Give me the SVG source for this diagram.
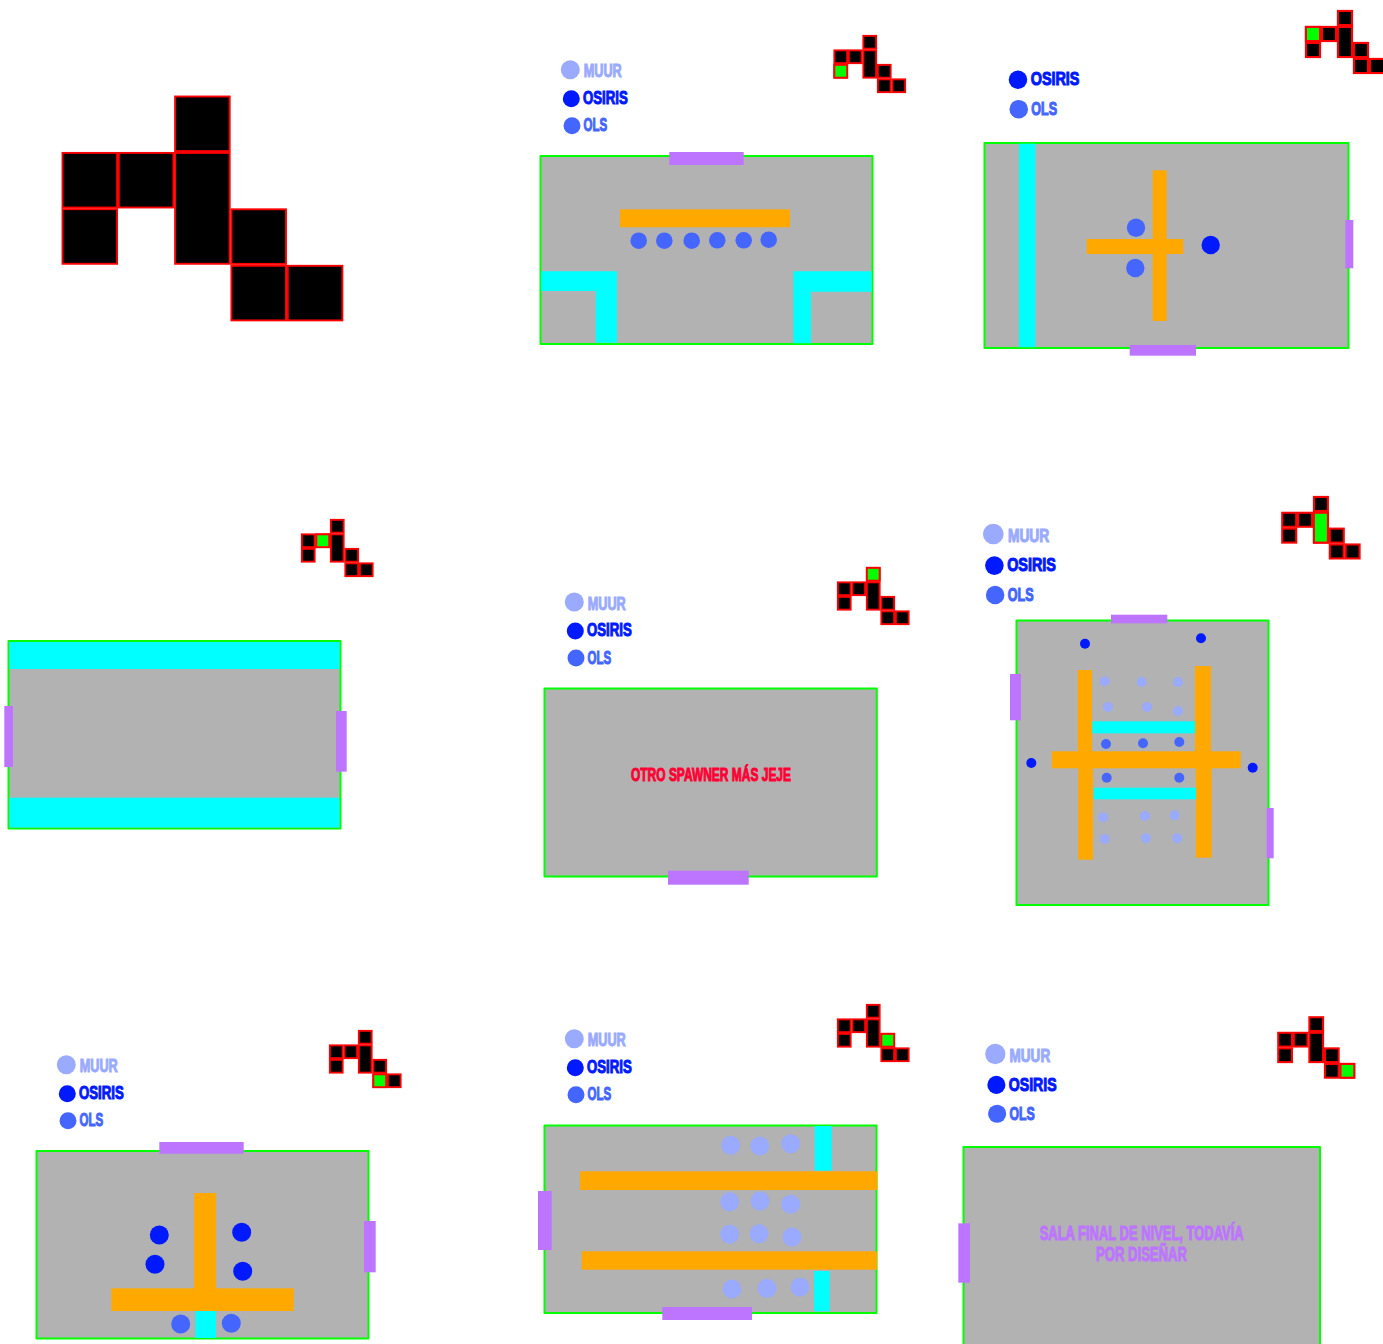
<svg xmlns="http://www.w3.org/2000/svg" xmlns:xlink="http://www.w3.org/1999/xlink" width="1383" height="1344" viewBox="0 0 1383 1344">
<style>
.room{fill:#b2b2b2;stroke:#00ff00;stroke-width:2;stroke-linejoin:round}
.door{fill:#bd75ff}
.or{fill:#ffa800}
.cy{fill:#00ffff}
.lt{fill:#99aaff}
.bl{fill:#0019ff}
.ol{fill:#4466ff}
.cell{fill:#000;stroke:#ff0000;stroke-width:1.9}
.big{fill:#000;stroke:#ff0000;stroke-width:1.9}
.gr{fill:#00ff00;stroke:#ff0000;stroke-width:1.9}
text{font-family:"Liberation Sans Narrow","Liberation Sans",Arial,sans-serif;font-weight:700;font-size:17.5px}
.tm{fill:#99aaff;stroke:#99aaff;stroke-width:1}
.to{fill:#0019ff;stroke:#0019ff;stroke-width:1}
.tl{fill:#4466ff;stroke:#4466ff;stroke-width:1}
.tr{fill:#ff0033;stroke:#ff0033;stroke-width:1}
.tp{fill:#bd75ff;stroke:#bd75ff;stroke-width:1.1;font-size:20px}
</style>
<defs>
<g id="mini">
<rect class="cell" x="29.85" y=".85" width="12.8" height="12.8"/>
<rect class="cell" x=".85" y="15.35" width="12.8" height="12.8"/>
<rect class="cell" x="15.35" y="15.35" width="12.8" height="12.8"/>
<rect class="cell" x=".85" y="29.85" width="12.8" height="12.8"/>
<rect class="cell" x="29.85" y="15.35" width="12.8" height="27.3"/>
<rect class="cell" x="44.35" y="29.85" width="12.8" height="12.8"/>
<rect class="cell" x="44.35" y="44.35" width="12.8" height="12.8"/>
<rect class="cell" x="58.85" y="44.35" width="12.8" height="12.8"/>
</g>
</defs>

<g id="map-large">
<rect class="big" x="175.1" y="96.5" width="54.6" height="54.6"/>
<rect class="big" x="62.5" y="152.9" width="54.6" height="54.6"/>
<rect class="big" x="118.8" y="152.9" width="54.6" height="54.6"/>
<rect class="big" x="62.5" y="209.2" width="54.6" height="54.6"/>
<rect class="big" x="175.1" y="152.9" width="54.6" height="110.9"/>
<rect class="big" x="231.4" y="209.3" width="54.6" height="54.6"/>
<rect class="big" x="231.4" y="265.8" width="54.6" height="54.6"/>
<rect class="big" x="287.8" y="265.8" width="54.6" height="54.6"/>
</g>

<g id="room-1">
<g transform="translate(833.5 35)"><use href="#mini"/><rect class="gr" x=".85" y="29.85" width="12.8" height="12.8"/></g>
<g transform="translate(570.3 69.7)">
<circle class="lt" r="9.5"/><text class="tm" x="13.4" y="7.6" textLength="38" lengthAdjust="spacingAndGlyphs">MUUR</text>
<circle class="bl" cx="1" cy="29" r="8.5"/><text class="to" x="12.7" y="34.3" textLength="44.7" lengthAdjust="spacingAndGlyphs">OSIRIS</text>
<circle class="ol" cx="1.7" cy="56" r="8.5"/><text class="tl" x="13.2" y="61.6" textLength="23.7" lengthAdjust="spacingAndGlyphs">OLS</text>
</g>
<rect class="room" x="540.5" y="156" width="332" height="188"/>
<rect class="door" x="669.3" y="152" width="74.4" height="13"/>
<rect class="or" x="620" y="209.3" width="170" height="18"/>
<circle class="ol" cx="638.7" cy="240.7" r="8.3"/><circle class="ol" cx="664.3" cy="240.7" r="8.3"/><circle class="ol" cx="691.7" cy="240.7" r="8.3"/><circle class="ol" cx="717.3" cy="240.3" r="8.3"/><circle class="ol" cx="743.7" cy="240.3" r="8.3"/><circle class="ol" cx="768.7" cy="239.7" r="8.3"/>
<path class="cy" d="M541 271.3H617V342.7H595.7V291H541Z"/>
<path class="cy" d="M793.3 271.3H871.7V291.7H811V343.3H793.3Z"/>
</g>

<g id="room-2">
<g transform="translate(1305 10) scale(1.103)"><use href="#mini"/><rect class="gr" x=".85" y="15.35" width="12.8" height="12.8"/></g>
<g transform="translate(1016.9 48.1) scale(1.09)">
<circle class="bl" cx="1" cy="29" r="8.5"/><text class="to" x="12.7" y="34.3" textLength="44.7" lengthAdjust="spacingAndGlyphs">OSIRIS</text>
<circle class="ol" cx="1.7" cy="56" r="8.5"/><text class="tl" x="13.2" y="61.6" textLength="23.7" lengthAdjust="spacingAndGlyphs">OLS</text>
</g>
<rect class="room" x="984.5" y="143" width="364" height="205"/>
<rect class="cy" x="1019" y="143.7" width="16.3" height="203.5"/>
<rect class="door" x="1345.3" y="220" width="8" height="48.3"/>
<rect class="door" x="1129.7" y="345" width="66.3" height="10.7"/>
<rect class="or" x="1152.7" y="170.3" width="14" height="150.7"/>
<rect class="or" x="1086.7" y="239" width="96.6" height="15"/>
<circle class="ol" cx="1136" cy="227.7" r="9.2"/><circle class="ol" cx="1135.3" cy="268" r="9.2"/><circle class="bl" cx="1210.7" cy="245" r="9.2"/>
</g>

<g id="room-3">
<g transform="translate(301 519)"><use href="#mini"/><rect class="gr" x="15.35" y="15.35" width="12.8" height="12.8"/></g>
<rect class="room" x="8.5" y="641" width="332" height="187.5"/>
<rect class="cy" x="9.5" y="642" width="330" height="27"/>
<rect class="cy" x="9.5" y="797.7" width="330" height="29.8"/>
<rect class="door" x="4.3" y="706" width="8.7" height="61"/>
<rect class="door" x="336" y="711" width="10.7" height="60.7"/>
</g>

<g id="room-4">
<g transform="translate(837 567)"><use href="#mini"/><rect class="gr" x="29.85" y=".85" width="12.8" height="12.8"/></g>
<g transform="translate(574.3 602)">
<circle class="lt" r="9.5"/><text class="tm" x="13.4" y="7.6" textLength="38" lengthAdjust="spacingAndGlyphs">MUUR</text>
<circle class="bl" cx="1" cy="29" r="8.5"/><text class="to" x="12.7" y="34.3" textLength="44.7" lengthAdjust="spacingAndGlyphs">OSIRIS</text>
<circle class="ol" cx="1.7" cy="56" r="8.5"/><text class="tl" x="13.2" y="61.6" textLength="23.7" lengthAdjust="spacingAndGlyphs">OLS</text>
</g>
<rect class="room" x="544.5" y="688.5" width="332.3" height="188"/>
<rect class="door" x="668" y="870.7" width="80.7" height="14"/>
<text class="tr" x="631" y="781" textLength="160" lengthAdjust="spacingAndGlyphs">OTRO SPAWNER MÁS JEJE</text>
</g>

<g id="room-5">
<g transform="translate(1281.3 496) scale(1.093)"><use href="#mini"/><rect class="gr" x="29.85" y="15.35" width="12.8" height="27.3"/></g>
<g transform="translate(993.3 534) scale(1.09)">
<circle class="lt" r="9.5"/><text class="tm" x="13.4" y="7.6" textLength="38" lengthAdjust="spacingAndGlyphs">MUUR</text>
<circle class="bl" cx="1" cy="29" r="8.5"/><text class="to" x="12.7" y="34.3" textLength="44.7" lengthAdjust="spacingAndGlyphs">OSIRIS</text>
<circle class="ol" cx="1.7" cy="56" r="8.5"/><text class="tl" x="13.2" y="61.6" textLength="23.7" lengthAdjust="spacingAndGlyphs">OLS</text>
</g>
<rect class="room" x="1016.5" y="620.5" width="252" height="284.5"/>
<rect class="door" x="1111" y="614.7" width="56.3" height="8.6"/>
<rect class="door" x="1010" y="674" width="11" height="46.3"/>
<rect class="door" x="1266.7" y="808" width="7" height="50.3"/>
<rect class="or" x="1077.7" y="670" width="14.3" height="85"/>
<rect class="or" x="1078.3" y="765" width="14.7" height="94.7"/>
<rect class="or" x="1195" y="666" width="16" height="90"/>
<rect class="or" x="1195.7" y="765" width="16" height="92.7"/>
<rect class="or" x="1051.7" y="751.3" width="189" height="17"/>
<rect class="cy" x="1092.3" y="721.3" width="102.7" height="12"/>
<rect class="cy" x="1093.7" y="787.7" width="102.3" height="11.6"/>
<circle class="lt" cx="1104.7" cy="681.3" r="5"/><circle class="lt" cx="1141.7" cy="682" r="5"/><circle class="lt" cx="1178" cy="682" r="5"/><circle class="lt" cx="1108" cy="707" r="5"/><circle class="lt" cx="1147" cy="707" r="5"/><circle class="lt" cx="1178" cy="711" r="5"/><circle class="lt" cx="1103.3" cy="817.3" r="5"/><circle class="lt" cx="1145" cy="816" r="5"/><circle class="lt" cx="1174.7" cy="815.3" r="5"/><circle class="lt" cx="1104.7" cy="839" r="5"/><circle class="lt" cx="1146" cy="838.3" r="5"/><circle class="lt" cx="1177.3" cy="838.3" r="5"/>
<circle class="ol" cx="1106" cy="744" r="5"/><circle class="ol" cx="1143" cy="743.3" r="5"/><circle class="ol" cx="1179.3" cy="742" r="5"/><circle class="ol" cx="1106.7" cy="777.7" r="5"/><circle class="ol" cx="1179.3" cy="777.7" r="5"/>
<circle class="bl" cx="1085" cy="643.7" r="5"/><circle class="bl" cx="1201" cy="638.3" r="5"/><circle class="bl" cx="1031.3" cy="763" r="5"/><circle class="bl" cx="1252.7" cy="767.7" r="5"/>
</g>

<g id="room-6">
<g transform="translate(329 1030)"><use href="#mini"/><rect class="gr" x="44.35" y="44.35" width="12.8" height="12.8"/></g>
<g transform="translate(66.3 1064.7)">
<circle class="lt" r="9.5"/><text class="tm" x="13.4" y="7.6" textLength="38" lengthAdjust="spacingAndGlyphs">MUUR</text>
<circle class="bl" cx="1" cy="29" r="8.5"/><text class="to" x="12.7" y="34.3" textLength="44.7" lengthAdjust="spacingAndGlyphs">OSIRIS</text>
<circle class="ol" cx="1.7" cy="56" r="8.5"/><text class="tl" x="13.2" y="61.6" textLength="23.7" lengthAdjust="spacingAndGlyphs">OLS</text>
</g>
<rect class="room" x="36.5" y="1151" width="332" height="187.5"/>
<rect class="door" x="159.3" y="1142" width="84.4" height="11.7"/>
<rect class="door" x="364" y="1221" width="11.7" height="51.3"/>
<rect class="or" x="194" y="1193" width="22" height="100"/>
<rect class="or" x="111.3" y="1288.3" width="182.4" height="22.7"/>
<rect class="cy" x="195.3" y="1311" width="20.7" height="27"/>
<circle class="bl" cx="159.3" cy="1235" r="9.5"/><circle class="bl" cx="241.7" cy="1232.3" r="9.5"/><circle class="bl" cx="155" cy="1264.3" r="9.5"/><circle class="bl" cx="242.7" cy="1271.3" r="9.5"/>
<circle class="ol" cx="180.7" cy="1324" r="9.5"/><circle class="ol" cx="231.3" cy="1323.3" r="9.5"/>
</g>

<g id="room-7">
<g transform="translate(837 1004)"><use href="#mini"/><rect class="gr" x="44.35" y="29.85" width="12.8" height="12.8"/></g>
<g transform="translate(574.3 1038.7)">
<circle class="lt" r="9.5"/><text class="tm" x="13.4" y="7.6" textLength="38" lengthAdjust="spacingAndGlyphs">MUUR</text>
<circle class="bl" cx="1" cy="29" r="8.5"/><text class="to" x="12.7" y="34.3" textLength="44.7" lengthAdjust="spacingAndGlyphs">OSIRIS</text>
<circle class="ol" cx="1.7" cy="56" r="8.5"/><text class="tl" x="13.2" y="61.6" textLength="23.7" lengthAdjust="spacingAndGlyphs">OLS</text>
</g>
<rect class="room" x="544.5" y="1125.5" width="332" height="187.5"/>
<rect class="door" x="538" y="1191" width="13.7" height="59"/>
<rect class="door" x="662.3" y="1307" width="89.7" height="13"/>
<rect class="or" x="580" y="1171.3" width="297.5" height="18.7"/>
<rect class="or" x="581.7" y="1251.3" width="295.5" height="18.4"/>
<rect class="cy" x="814.7" y="1126" width="17" height="44.7"/>
<rect class="cy" x="814" y="1271" width="15.7" height="40.3"/>
<circle class="lt" cx="730.7" cy="1145.3" r="9.5"/><circle class="lt" cx="759.7" cy="1146" r="9.5"/><circle class="lt" cx="790.7" cy="1143.7" r="9.5"/><circle class="lt" cx="729.7" cy="1201.7" r="9.5"/><circle class="lt" cx="760" cy="1201" r="9.5"/><circle class="lt" cx="790.7" cy="1204.3" r="9.5"/><circle class="lt" cx="729.7" cy="1234.3" r="9.5"/><circle class="lt" cx="759" cy="1233.7" r="9.5"/><circle class="lt" cx="792" cy="1237" r="9.5"/><circle class="lt" cx="732" cy="1289" r="9.5"/><circle class="lt" cx="767" cy="1288.3" r="9.5"/><circle class="lt" cx="800" cy="1287" r="9.5"/>
</g>

<g id="room-8">
<g transform="translate(1277.3 1016.3) scale(1.074)"><use href="#mini"/><rect class="gr" x="58.85" y="44.35" width="12.8" height="12.8"/></g>
<g transform="translate(995.3 1054) scale(1.067)">
<circle class="lt" r="9.5"/><text class="tm" x="13.4" y="7.6" textLength="38" lengthAdjust="spacingAndGlyphs">MUUR</text>
<circle class="bl" cx="1" cy="29" r="8.5"/><text class="to" x="12.7" y="34.3" textLength="44.7" lengthAdjust="spacingAndGlyphs">OSIRIS</text>
<circle class="ol" cx="1.7" cy="56" r="8.5"/><text class="tl" x="13.2" y="61.6" textLength="23.7" lengthAdjust="spacingAndGlyphs">OLS</text>
</g>
<rect class="room" x="963.5" y="1147" width="356.5" height="210"/>
<rect class="door" x="958.3" y="1223.3" width="11.7" height="59.4"/>
<text class="tp" x="1039.7" y="1240" textLength="204" lengthAdjust="spacingAndGlyphs">SALA FINAL DE NIVEL, TODAVÍA</text>
<text class="tp" x="1096" y="1261.3" textLength="91" lengthAdjust="spacingAndGlyphs">POR DISEÑAR</text>
</g>
</svg>
